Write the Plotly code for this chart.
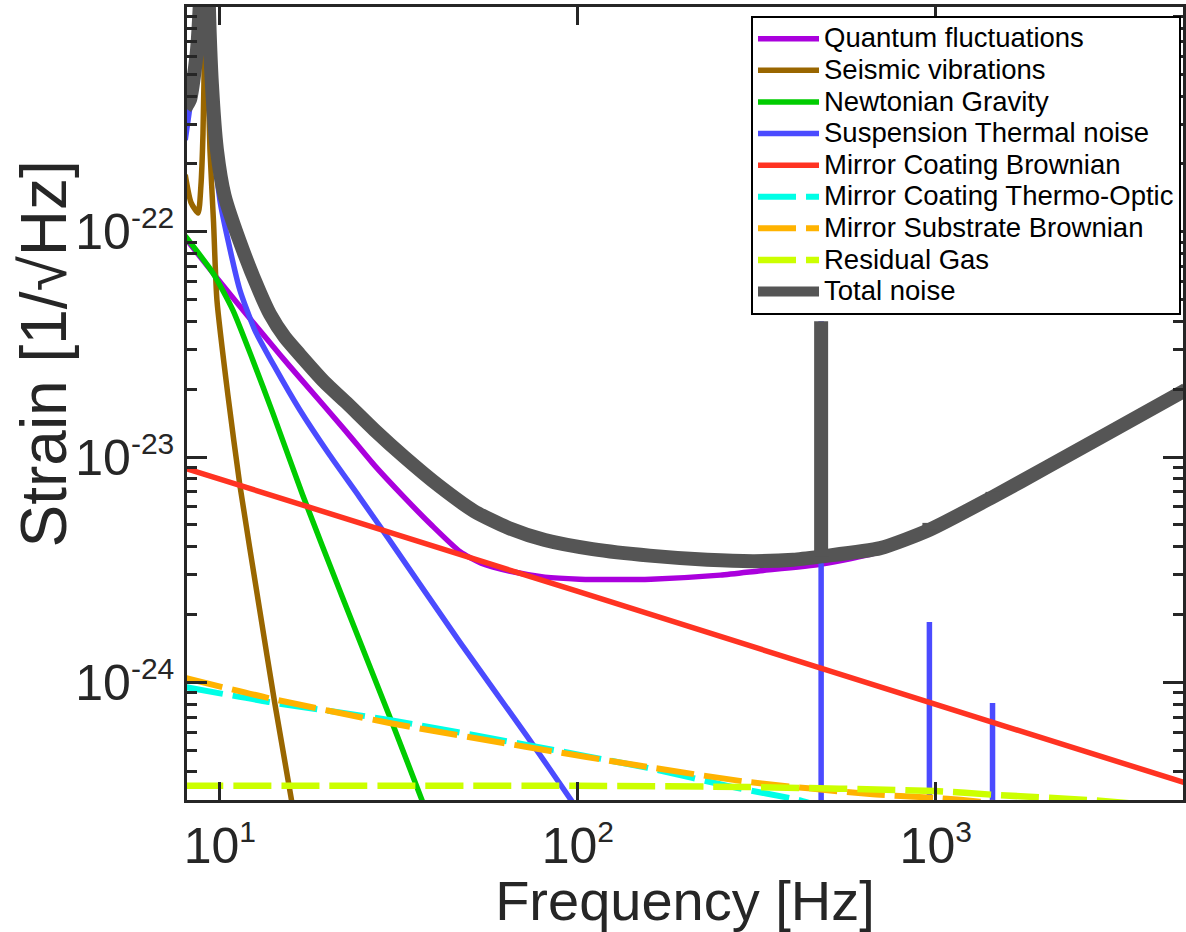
import plotly.graph_objects as go

# ---------------- data ----------------
quantum_f = [8, 9, 10, 12, 14.7, 16.7, 22.6, 27, 32.8, 39.2, 46.9, 53.7, 64.3, 80.9, 101, 127, 160, 250, 320,
             480, 700, 1000, 1500, 2000, 3000, 5000]
quantum_v = [9.4e-23, 7.4e-23, 6.0e-23, 4.2e-23, 2.85e-23, 2.25e-23, 1.29e-23, 9.2e-24, 6.6e-24, 4.95e-24,
             3.8e-24, 3.38e-24, 3.12e-24, 2.93e-24, 2.87e-24, 2.86e-24, 2.87e-24, 2.99e-24, 3.12e-24, 3.35e-24,
             3.8e-24, 4.85e-24, 6.9e-24, 8.8e-24, 1.26e-23, 1.99e-23]

seismic_f = [8.0, 8.3, 8.69, 8.85, 8.97, 9.06, 9.14, 9.22, 9.3, 9.38, 9.6, 9.81, 10.53, 11.37, 12.92, 14.23, 15.87, 17.0]
seismic_v = [1.79e-22, 1.35e-22, 1.21e-22, 1.6e-22, 2.74e-22, 7e-22, 5e-21, 9e-22, 4e-22, 2.31e-22, 1.1e-22,
             4.98e-23, 1.88e-23, 7.51e-24, 2.09e-24, 8.09e-25, 2.97e-25, 1.5e-25]

newtonian_f = [8.0, 9.56, 10.87, 12.36, 14.05, 17.03, 21.87, 30.53, 36.78, 40]
newtonian_v = [9.57e-23, 6.56e-23, 4.49e-23, 2.69e-23, 1.57e-23, 6.78e-24, 2.44e-24, 6.4e-25, 2.97e-25, 2.09e-25]

suspension_f = [8.0, 8.25, 8.63, 8.85, 9.1, 9.2, 9.3, 9.5, 9.69, 10.0, 10.53, 11.37, 12.52, 14.23, 16.71, 20.26,
                24.55, 29.38, 46.92, 72.1, 96.2, 120]
suspension_v = [2.55e-22, 3.6e-22, 6e-22, 1.1e-21, 3.5e-21, 5.5e-21, 2.8e-21, 6e-22, 2.31e-22, 1.38e-22, 9.19e-23,
                5.51e-23, 3.66e-23, 2.51e-23, 1.62e-23, 1.02e-23, 6.64e-24, 4.41e-24, 1.5e-24, 5.77e-25,
                2.97e-25, 1.77e-25]

# violin-mode resonances of the suspension (peaks of the blue curve)
violin_f = [478.4, 960, 1441]
violin_peak = [4.0e-23, 1.85e-24, 8.1e-25]
violin_floor = [1e-25, 1e-25, 1e-25]

coating_brownian_f = [8, 10, 100, 1000, 5000]
coating_brownian_v = [8.9e-24, 7.98e-24, 2.53e-24, 7.98e-25, 3.57e-25]

coating_to_f = [8.0, 13.69, 29.76, 72.1, 156.7, 277.4, 412.7, 500, 700]
coating_to_v = [9.53e-25, 8.18e-25, 6.81e-25, 5.27e-25, 4.17e-25, 3.40e-25, 3.01e-25, 2.75e-25, 2.4e-25]

substrate_f = [8.0, 13.69, 29.76, 72.1, 156.7, 299.5, 655, 993.6, 1174, 1500, 2000]
substrate_v = [1.045e-24, 8.51e-25, 6.6e-25, 5.16e-25, 4.21e-25, 3.61e-25, 3.19e-25, 3.07e-25, 3.01e-25, 2.9e-25, 2.8e-25]

gas_f = [8, 100, 300, 993, 1488, 2703, 4000]
gas_v = [3.47e-25, 3.47e-25, 3.43e-25, 3.29e-25, 3.16e-25, 3.0e-25, 2.85e-25]

total_f = [8.0, 8.25, 8.63, 8.85, 9.0, 9.14, 9.3, 9.5, 9.81, 10.3, 11.59, 12.92, 13.8, 15.17, 16.71, 19.6, 22.59,
           27, 32.76, 41.0, 51.33, 64.3, 80.9, 110, 158.7, 230, 311.2, 400, 478.4, 700, 960, 1441, 2051, 4814, 5000]
total_v = [3.54e-22, 3.85e-22, 6.4e-22, 1.3e-21, 3e-21, 6e-21, 1.1e-21, 4.5e-22, 2.31e-22, 1.45e-22, 8.3e-23,
           5.4e-23, 4.31e-23, 3.41e-23, 2.85e-23, 2.15e-23, 1.74e-23, 1.32e-23, 1.0e-23, 7.43e-24, 5.75e-24,
           4.83e-24, 4.28e-24, 3.9e-24, 3.65e-24, 3.5e-24, 3.45e-24, 3.5e-24, 3.62e-24, 3.94e-24, 4.75e-24,
           6.64e-24, 9.03e-24, 1.92e-23, 1.99e-23]
# peaks of the total curve at the violin modes
total_violin_peak = [4.0e-23, 5.1e-24, 7.0e-24]

x_tick_vals = [10, 100, 1000]
x_tick_exp = ["1", "2", "3"]
y_tick_vals = [1e-24, 1e-23, 1e-22]
y_tick_exp = ["-24", "-23", "-22"]
y_minor_vals = [m * 10.0 ** e for e in (-25, -24, -23, -22) for m in range(2, 10)]

SUP = '10<sup><span style="font-size:30px">{}</span></sup>'
x_tick_text = [SUP.format(e) for e in x_tick_exp]
y_tick_text = [SUP.format(e) for e in y_tick_exp]


def spikes(freqs, lows, highs):
    xs, ys = [], []
    for f, lo, hi in zip(freqs, lows, highs):
        xs += [f, f, None]
        ys += [lo, hi, None]
    return xs, ys


total_at_violin = [total_v[total_f.index(f)] for f in violin_f]

# ---------------- figure ----------------
fig = go.Figure()


def add_line(name, f, v, color, width, dash="solid", shape="spline", legend=True):
    fig.add_trace(go.Scatter(
        x=f, y=v, mode="lines",
        name='<span style="font-size:27.5px">' + name + '</span>',
        showlegend=legend, legendgroup=name,
        line=dict(color=color, width=width, dash=dash, simplify=False, shape=shape, smoothing=0.6),
    ))


PURPLE, BROWN, GREEN, BLUE = "#AA00DD", "#996600", "#00CC00", "#4B4BFF"
RED, CYAN, ORANGE, LIME, GRAY = "#FF3322", "#00FFE6", "#FFB300", "#CCFF00", "#555555"

add_line("Quantum fluctuations", quantum_f, quantum_v, PURPLE, 5.5)
add_line("Seismic vibrations", seismic_f, seismic_v, BROWN, 5.5)
add_line("Newtonian Gravity", newtonian_f, newtonian_v, GREEN, 5.5)
add_line("Suspension Thermal noise", suspension_f, suspension_v, BLUE, 5.5)
vx, vy = spikes(violin_f, violin_floor, violin_peak)
add_line("Suspension Thermal noise", vx, vy, BLUE, 5.5, shape="linear", legend=False)
add_line("Mirror Coating Brownian", coating_brownian_f, coating_brownian_v, RED, 5.5, shape="linear")
add_line("Mirror Coating Thermo-Optic", coating_to_f, coating_to_v, CYAN, 6, dash="38px,10px")
add_line("Mirror Substrate Brownian", substrate_f, substrate_v, ORANGE, 6, dash="38px,10px")
add_line("Residual Gas", gas_f, gas_v, LIME, 6.5, dash="38px,10px")
add_line("Total noise", total_f, total_v, GRAY, 14)
tx, ty = spikes(violin_f, total_at_violin, total_violin_peak)
add_line("Total noise", tx, ty, GRAY, 14, shape="linear", legend=False)

axis_color = "#262626"
fig.update_layout(
    width=1186, height=932,
    margin=dict(l=187, r=0, t=7, b=132),
    paper_bgcolor="white", plot_bgcolor="white",
    font=dict(family="Liberation Sans, Arial, sans-serif", color=axis_color),
    showlegend=True,
    legend=dict(
        x=0.998, xanchor="right", y=0.9887, yanchor="top",
        bgcolor="white", bordercolor="black", borderwidth=2,
        font=dict(size=22, color="black"),
        itemwidth=61, tracegroupgap=0,
    ),
    xaxis=dict(
        type="log", range=[0.90808, 3.69081],
        showgrid=False, zeroline=False,
        showline=True, linecolor=axis_color, linewidth=2.5, mirror="ticks",
        ticks="inside", ticklen=18, tickwidth=2.5, tickcolor=axis_color,
        tickmode="array", tickvals=x_tick_vals, ticktext=x_tick_text,
        tickfont=dict(size=50, color=axis_color),
        title=dict(text="Frequency [Hz]", font=dict(size=56, color=axis_color), standoff=4),
    ),
    yaxis=dict(
        type="log", range=[-24.5224, -21.0027],
        showgrid=False, zeroline=False,
        showline=True, linecolor=axis_color, linewidth=2.5, mirror="ticks",
        ticks="inside", ticklen=20, tickwidth=2.5, tickcolor=axis_color,
        tickmode="array", tickvals=y_tick_vals, ticktext=y_tick_text,
        tickfont=dict(size=50, color=axis_color),
        minor=dict(ticks="inside", ticklen=10, tickwidth=2.5, tickcolor=axis_color,
                   tickmode="array", tickvals=y_minor_vals, showgrid=False),
    ),
    annotations=[dict(
        text="Strain [1/√Hz]", textangle=-90, showarrow=False,
        xref="paper", yref="paper", x=-0.1431, y=0.5624, xanchor="center", yanchor="middle",
        font=dict(size=64, color=axis_color),
    )],
)

fig.write_html("out.html")
